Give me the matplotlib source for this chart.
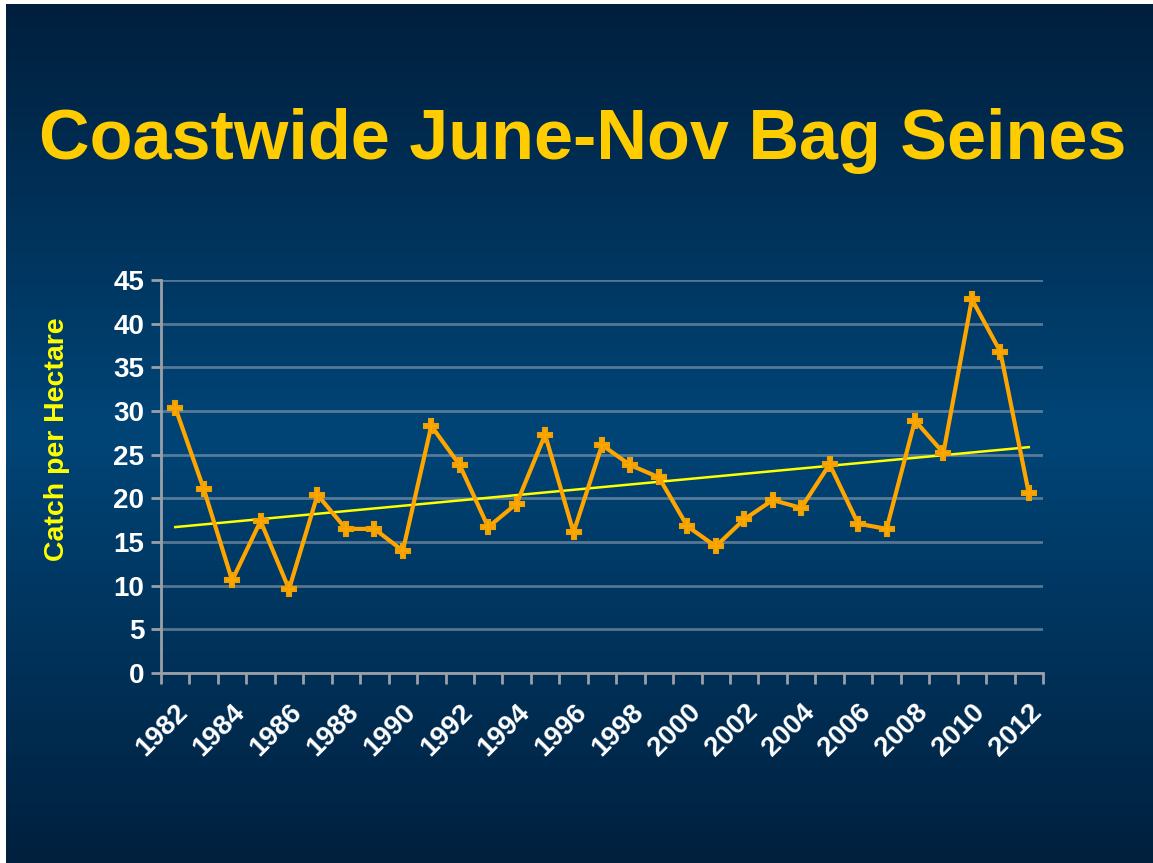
import numpy as np
import matplotlib
matplotlib.use("Agg")
import matplotlib.pyplot as plt
import matplotlib.transforms as mtransforms
from matplotlib.colors import LinearSegmentedColormap

years = list(range(1982, 2013))
catch = [30.4, 21.1, 10.6, 17.4, 9.6, 20.4, 16.5, 16.5, 14.0, 28.3,
         23.8, 16.7, 19.4, 27.3, 16.1, 26.1, 23.8, 22.4, 16.8, 14.5,
         17.6, 19.8, 18.9, 23.9, 17.1, 16.5, 28.9, 25.2, 42.8, 36.8, 20.6]
tick_labels = [str(y) for y in years]
title = "Coastwide June-Nov Bag Seines"
ylabel = "Catch per Hectare"

W, H = 1153, 863
fig = plt.figure(figsize=(W / 100, H / 100), dpi=100, facecolor="white")
font = "Liberation Sans"

# slide background: vertical gradient, dark at top and bottom
bg = fig.add_axes([6 / W, 0, 1 - 6 / W, 1 - 4 / H])
bg.set_axis_off()
cmap = LinearSegmentedColormap.from_list(
    "slide", [(0.0, "#00203e"), (0.5, "#004577"), (1.0, "#001f3d")])
grad = np.linspace(0, 1, 512).reshape(-1, 1)
bg.imshow(grad, aspect="auto", cmap=cmap, extent=[0, 1, 0, 1])
bg.set_xlim(0, 1)
bg.set_ylim(1, 0)

fig.text(583 / W, 1 - 141 / H, title, color="#ffcc00", fontsize=50.5,
         fontweight="bold", family=font, ha="center", va="center")

# plot area
x0, x1 = 161, 1043
y0, y1 = 280, 673
ax = fig.add_axes([x0 / W, 1 - y1 / H, (x1 - x0) / W, (y1 - y0) / H])
ax.patch.set_alpha(0)

x = np.arange(len(years))
ax.set_xlim(-0.5, len(years) - 0.5)
ax.set_ylim(0, 45)
ax.set_yticks(np.arange(0, 46, 5))
ax.grid(axis="y", color="#aab4c0", alpha=0.5, linewidth=2)
ax.set_axisbelow(True)

for side in ("top", "right"):
    ax.spines[side].set_visible(False)
for side in ("left", "bottom"):
    ax.spines[side].set_color("#9aa0a8")
    ax.spines[side].set_linewidth(2)

ax.set_xticks(x)
ax.set_xticks(np.arange(-0.5, len(years), 1), minor=True)
labels = [lab if i % 2 == 0 else "" for i, lab in enumerate(tick_labels)]
ax.set_xticklabels(labels, rotation=45, ha="right", rotation_mode="anchor",
                   color="white", fontsize=20, fontweight="bold", family=font)
shift = mtransforms.ScaledTranslation(4 / 100, 0, fig.dpi_scale_trans)
for t in ax.get_xticklabels():
    t.set_transform(t.get_transform() + shift)
ax.tick_params(axis="x", which="major", length=0, pad=19)
ax.tick_params(axis="x", which="minor", length=8, width=2, color="#9aa0a8")
ax.tick_params(axis="y", length=7, width=2, color="#9aa0a8", pad=5,
               labelcolor="white", labelsize=20)
for t in ax.get_yticklabels():
    t.set_fontweight("bold")
    t.set_family(font)

# trend line from a least-squares fit
slope, intercept = np.polyfit(x, catch, 1)
ax.plot(x, slope * x + intercept, color="#ffff00", linewidth=1.8, zorder=3)

ax.plot(x, catch, color="#ffa500", linewidth=3, marker="P", markersize=10,
        markerfacecolor="#ffa800", markeredgecolor="#f0a000",
        markeredgewidth=1.5, zorder=4)

fig.text(57 / W, 1 - 439 / H, ylabel, color="#ffff00", fontsize=20.5,
         fontweight="bold", family=font, rotation=90, ha="center", va="center")

fig.savefig("out.png", dpi=100, facecolor="white")
